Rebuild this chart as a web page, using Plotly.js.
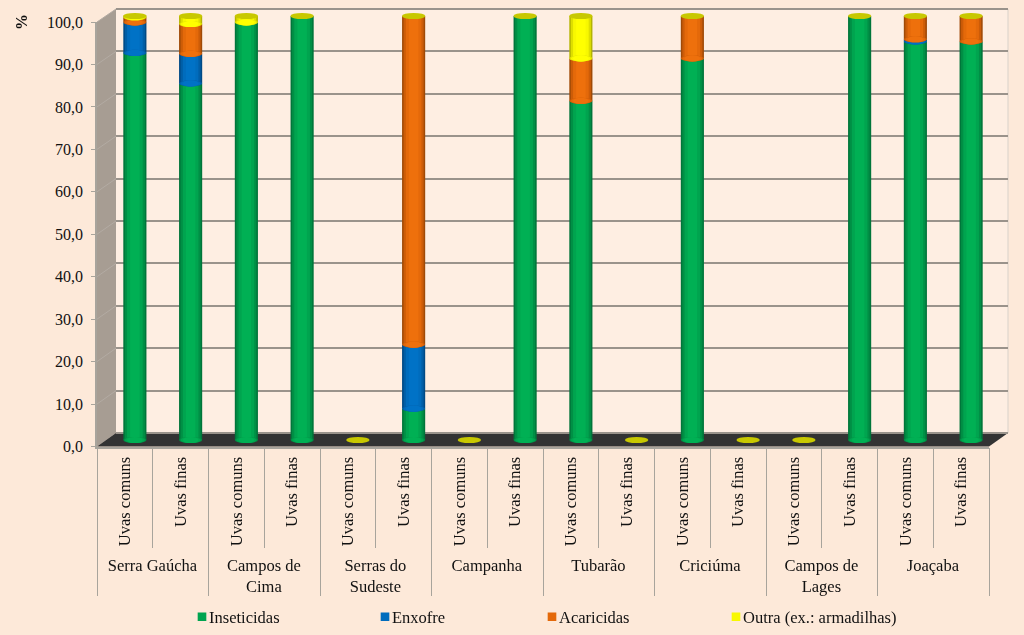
<!DOCTYPE html>
<html>
<head>
<meta charset="utf-8">
<script src="https://cdn.plot.ly/plotly-3.0.1.min.js"></script>
<style>
html,body{margin:0;padding:0;background:#FDE9D9;}
#chart{width:1024px;height:635px;}
.legendpoints path{transform:translate(33px,0) scale(.72);}
g.x2tick2{transform:translate(2.5px,-5px);}
.x2divider{stroke-dasharray:148px 1000px;}
</style>
</head>
<body>
<div id="chart"></div>
<script>
const regions = ["Serra Gaúcha","Serra Gaúcha","Campos de<br>Cima","Campos de<br>Cima","Serras do<br>Sudeste","Serras do<br>Sudeste","Campanha","Campanha","Tubarão","Tubarão","Criciúma","Criciúma","Campos de<br>Lages","Campos de<br>Lages","Joaçaba","Joaçaba"];
const grapes = ["Uvas comuns","Uvas finas","Uvas comuns","Uvas finas","Uvas comuns","Uvas finas","Uvas comuns","Uvas finas","Uvas comuns","Uvas finas","Uvas comuns","Uvas finas","Uvas comuns","Uvas finas","Uvas comuns","Uvas finas"];
const inseticidas = [91.3,84.1,98.5,100,0,7.4,0,100,80,0,90,0,0,100,94,94];
const enxofre     = [7.2,7,0,0,0,15.1,0,0,0,0,0,0,0,0,0.5,0];
const acaricidas  = [1.2,7,0,0,0,77.5,0,0,10,0,10,0,0,0,5.5,6];
const outra       = [0.3,1.9,1.5,0,0,0,0,0,10,0,0,0,0,0,0,0];
const seriesNames = ["Inseticidas","Enxofre","Acaricidas","Outra (ex.: armadilhas)"];
const seriesValues = [inseticidas,enxofre,acaricidas,outra];
const shades = [
  ["#00753a","#008f45","#00a44f","#00b054"],
  ["#004a85","#005ea6","#006cbd","#0072c6"],
  ["#a04a06","#cc5c08","#e4690a","#ee700c"],
  ["#b4b400","#dede00","#f8f800","#ffff00"]
];
const layerWidths = [0.415,0.36,0.28,0.17];
const capColor = "#c8c800";
const yTicks = [0,10,20,30,40,50,60,70,80,90,100];
const font = "Liberation Serif, Times New Roman, serif";
const W = 1024, H = 635;
const fx = p => p / W, fy = p => 1 - p / H;
const idx = grapes.map((_, i) => i);

const traces = [];
traces.push({type:"scatter",mode:"markers",x:[0,1],y:[0,100],xaxis:"x",yaxis:"y",opacity:0,showlegend:false,hoverinfo:"skip"});
traces.push({type:"bar",x:[regions,grapes],y:grapes.map(()=>0),xaxis:"x2",yaxis:"y2",showlegend:false,hoverinfo:"skip",opacity:0});

const bases = seriesValues.map((s,k)=>s.map((_,i)=>{let b=0;for(let j=0;j<k;j++)b+=seriesValues[j][i];return b;}));
seriesValues.forEach((vals,k)=>{
  layerWidths.forEach((w,l)=>{
    traces.push({
      type:"bar",x:idx,y:vals,base:bases[k],width:w,xaxis:"x3",yaxis:"y3",
      name:seriesNames[k],
      marker:{color:shades[k][l],line:{width:0}},
      showlegend:l===2,
      legend:k===0?"legend":"legend"+(k+1),
      hoverinfo:l===2?"name+y":"skip"
    });
  });
});

const wall = "#a79d93", grid = "#9a938b", light = "#b3aba3", axisC = "#a8a49c";
const shapes = [];
shapes.push({type:"rect",xref:"paper",yref:"paper",x0:fx(116),x1:fx(1008),y0:fy(433),y1:fy(9),fillcolor:"#FEEEE2",line:{width:0},layer:"below"});
shapes.push({type:"path",xref:"paper",yref:"paper",path:`M${fx(97)},${fy(22)}L${fx(116)},${fy(9)}L${fx(116)},${fy(433)}L${fx(97)},${fy(446.5)}Z`,fillcolor:wall,line:{width:0},layer:"below"});
shapes.push({type:"path",xref:"paper",yref:"paper",path:`M${fx(97)},${fy(446.5)}L${fx(116)},${fy(433)}L${fx(1008)},${fy(433)}L${fx(989)},${fy(446.5)}Z`,fillcolor:"#333333",line:{width:0},layer:"below"});
shapes.push({type:"line",xref:"paper",yref:"paper",x0:fx(1008),x1:fx(1008),y0:fy(433),y1:fy(9),line:{color:"#d9d2ca",width:1},layer:"below"});
yTicks.forEach(t=>{
  if(t===0) return;
  const yF = 446.5 - t*4.245, yB = 433 - t*4.24;
  shapes.push({type:"line",xref:"paper",yref:"paper",x0:fx(97),x1:fx(116),y0:fy(yF),y1:fy(yB),line:{color:light,width:1},layer:"below"});
});
const ry = 0.72;
idx.forEach(i=>{
  let total = 0;
  seriesValues.forEach((vals,k)=>{
    if(vals[i]>0){
      const b = bases[k][i];
      layerWidths.slice(0,3).forEach((w,l)=>{
        shapes.push({type:"circle",xref:"x3",yref:"y3",x0:i-w/2,x1:i+w/2,y0:b-ry,y1:b+ry,fillcolor:shades[k][l+1],line:{width:0},layer:"above"});
      });
      total = b + vals[i];
    }
  });
  shapes.push({type:"circle",xref:"x3",yref:"y3",x0:i-0.21,x1:i+0.21,y0:total-ry,y1:total+ry,fillcolor:capColor,line:{width:0},layer:"above"});
});

const legendBase = {orientation:"h",xanchor:"left",yanchor:"middle",y:fy(617),bgcolor:"rgba(0,0,0,0)",
  font:{family:font,size:16.5,color:"#111"},itemclick:false,itemdoubleclick:false,borderwidth:0};
const layout = {
  width:W,height:H,margin:{l:0,r:0,t:0,b:0},
  paper_bgcolor:"#FDE9D9",plot_bgcolor:"rgba(0,0,0,0)",
  barmode:"overlay",showlegend:true,
  font:{family:font,size:16,color:"#111"},
  xaxis:{domain:[fx(116),fx(1008)],range:[0,1],visible:false,fixedrange:true},
  yaxis:{domain:[fy(435.12),fy(6.88)],range:[-0.5,100.5],anchor:"x",tickvals:yTicks,showgrid:true,gridcolor:grid,gridwidth:1.5,
         showticklabels:false,ticks:"",zeroline:false,showline:false,fixedrange:true},
  xaxis2:{domain:[fx(97),fx(989)],anchor:"y2",type:"multicategory",tickangle:-90,
          ticks:"outside",ticklen:100,tickcolor:axisC,tickwidth:1,showline:true,linecolor:axisC,linewidth:1.5,
          showdividers:true,dividercolor:axisC,dividerwidth:1,showgrid:false,ticklabelstandoff:2,
          tickfont:{family:font,size:16.5,color:"#111"},fixedrange:true},
  yaxis2:{domain:[fy(446.5),fy(22)],range:[0,100],anchor:"x2",tickvals:yTicks,tickformat:".1f",
          ticks:"outside",ticklen:4,tickcolor:axisC,showline:true,linecolor:axisC,linewidth:1.5,showgrid:false,zeroline:false,
          ticklabelstandoff:5,tickfont:{family:font,size:16,color:"#111"},fixedrange:true},
  xaxis3:{domain:[fx(107),fx(999)],range:[-0.5,15.5],visible:false,fixedrange:true},
  yaxis3:{domain:[fy(452.72),fy(7.52)],range:[-3,102],anchor:"x3",visible:false,fixedrange:true},
  separators:",.",
  shapes:shapes,
  annotations:[{text:"<b>%</b>",xref:"paper",yref:"paper",x:fx(21),y:fy(22),xanchor:"center",yanchor:"middle",textangle:-90,showarrow:false,
    font:{family:font,size:16,color:"#111"}}],
  legend:Object.assign({x:fx(169)},legendBase),
  legend2:Object.assign({x:fx(352)},legendBase),
  legend3:Object.assign({x:fx(519)},legendBase),
  legend4:Object.assign({x:fx(703)},legendBase)
};
Plotly.newPlot("chart",traces,layout,{displayModeBar:false,responsive:false});
</script>
</body>
</html>
